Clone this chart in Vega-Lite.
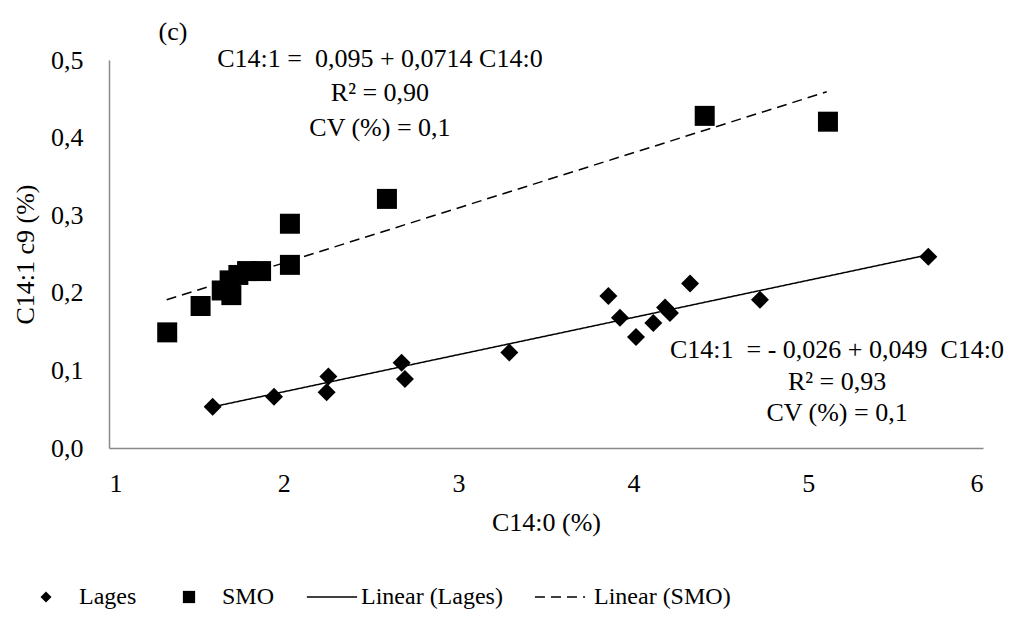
{
  "$schema": "https://vega.github.io/schema/vega-lite/v6.json",
  "width": 874,
  "height": 388,
  "autosize": "none",
  "padding": {"left": 109, "top": 60, "right": 27, "bottom": 173},
  "background": "white",
  "config": {
    "view": {"stroke": null},
    "font": "Liberation Serif",
    "axis": {
      "labelFont": "Liberation Serif",
      "titleFont": "Liberation Serif",
      "labelColor": "black",
      "titleColor": "black",
      "titleFontWeight": "normal",
      "labelFontSize": 26,
      "titleFontSize": 26,
      "domainColor": "#898989",
      "domainWidth": 1.5,
      "ticks": false,
      "tickSize": 0,
      "grid": false
    }
  },
  "datasets": {
    "points": [
      {"series": "Lages", "x": 1.593, "y": 0.053},
      {"series": "Lages", "x": 1.944, "y": 0.066},
      {"series": "Lages", "x": 2.255, "y": 0.092},
      {"series": "Lages", "x": 2.245, "y": 0.072},
      {"series": "Lages", "x": 2.674, "y": 0.110},
      {"series": "Lages", "x": 2.693, "y": 0.089},
      {"series": "Lages", "x": 3.290, "y": 0.123},
      {"series": "Lages", "x": 3.857, "y": 0.196},
      {"series": "Lages", "x": 3.923, "y": 0.168},
      {"series": "Lages", "x": 4.015, "y": 0.143},
      {"series": "Lages", "x": 4.114, "y": 0.161},
      {"series": "Lages", "x": 4.181, "y": 0.181},
      {"series": "Lages", "x": 4.209, "y": 0.174},
      {"series": "Lages", "x": 4.324, "y": 0.212},
      {"series": "Lages", "x": 4.724, "y": 0.191},
      {"series": "Lages", "x": 5.687, "y": 0.2465},
      {"series": "SMO", "x": 1.333, "y": 0.149},
      {"series": "SMO", "x": 1.524, "y": 0.183},
      {"series": "SMO", "x": 1.645, "y": 0.203},
      {"series": "SMO", "x": 1.700, "y": 0.197},
      {"series": "SMO", "x": 1.690, "y": 0.216},
      {"series": "SMO", "x": 1.740, "y": 0.223},
      {"series": "SMO", "x": 1.790, "y": 0.228},
      {"series": "SMO", "x": 1.870, "y": 0.228},
      {"series": "SMO", "x": 2.035, "y": 0.236},
      {"series": "SMO", "x": 2.035, "y": 0.289},
      {"series": "SMO", "x": 2.590, "y": 0.321},
      {"series": "SMO", "x": 4.408, "y": 0.428},
      {"series": "SMO", "x": 5.113, "y": 0.4205}
    ],
    "trend": [
      {"series": "Linear (Lages)", "x": 1.593, "y": 0.053},
      {"series": "Linear (Lages)", "x": 5.687, "y": 0.249},
      {"series": "Linear (SMO)", "x": 1.33, "y": 0.191},
      {"series": "Linear (SMO)", "x": 5.106, "y": 0.459}
    ],
    "notes": [
      {"label": "(c)", "x": 1.366, "y": 0.536},
      {"label": "C14:1 =\u00a0 0,095 + 0,0714 C14:0", "x": 2.55, "y": 0.501},
      {"label": "R² = 0,90", "x": 2.55, "y": 0.4575},
      {"label": "CV (%) = 0,1", "x": 2.55, "y": 0.412},
      {"label": "C14:1 \u00a0= - 0,026 + 0,049 \u00a0C14:0", "x": 5.165, "y": 0.126},
      {"label": "R² = 0,93", "x": 5.165, "y": 0.085},
      {"label": "CV (%) = 0,1", "x": 5.165, "y": 0.045}
    ]
  },
  "layer": [
    {
      "data": {"name": "points"},
      "mark": {"type": "point", "filled": true, "color": "black", "opacity": 1, "size": 400},
      "encoding": {
        "x": {
          "field": "x", "type": "quantitative",
          "scale": {"domain": [1, 6], "nice": false, "zero": false},
          "axis": {
            "values": [1, 2, 3, 4, 5, 6],
            "format": "d",
            "labelFont": "Liberation Serif",
            "titleFont": "Liberation Serif",
            "title": "C14:0 (%)",
            "labelPadding": 22,
            "titleX": 437,
            "titleY": 74,
            "titleBaseline": "middle",
            "titleAlign": "center"
          }
        },
        "y": {
          "field": "y", "type": "quantitative",
          "scale": {"domain": [0, 0.5], "nice": false, "zero": false},
          "axis": {
            "values": [0, 0.1, 0.2, 0.3, 0.4, 0.5],
            "labelExpr": "replace(format(datum.value, '.1f'), '.', ',')",
            "labelFont": "Liberation Serif",
            "titleFont": "Liberation Serif",
            "labelPadding": 26,
            "title": "C14:1 c9 (%)",
            "titleX": -84,
            "titleY": 194,
            "titleAngle": 270,
            "titleAlign": "center",
            "titleBaseline": "middle"
          }
        },
        "shape": {
          "field": "series", "type": "nominal",
          "scale": {
            "domain": ["Lages", "SMO", "Linear (Lages)", "Linear (SMO)"],
            "range": [
              "M0,-0.9L0.9,0L0,0.9L-0.9,0Z",
              "M-3.3,0M-1,-1L1,-1L1,1L-1,1Z",
              "M-3.45,-0.12L4.75,-0.12L4.75,0.12L-3.45,0.12Z",
              "M-4.26,-0.12L-2.62,-0.12L-2.62,0.12L-4.26,0.12ZM-1.64,-0.12L0,-0.12L0,0.12L-1.64,0.12ZM0.98,-0.12L2.62,-0.12L2.62,0.12L0.98,0.12ZM3.6,-0.12L3.93,-0.12L3.93,0.12L3.6,0.12Z"
            ]
          },
          "legend": {
            "title": null,
            "orient": "none",
            "direction": "horizontal",
            "columns": 4,
            "legendX": -75,
            "legendY": 525,
            "padding": 0,
            "columnPadding": 28,
            "symbolSize": 150,
            "labelOffset": 21,
            "labelFont": "Liberation Serif",
            "labelFontSize": 24,
            "labelColor": "black",
            "labelLimit": 400,
            "encode": {
              "symbols": {
                "update": {
                  "fill": {"value": "black"},
                  "stroke": {"value": "black"},
                  "strokeWidth": {"value": 0},
                  "opacity": {"value": 1}
                }
              }
            }
          }
        }
      }
    },
    {
      "data": {"name": "trend"},
      "mark": {"type": "line", "color": "black", "strokeWidth": 1.5},
      "encoding": {
        "x": {"field": "x", "type": "quantitative"},
        "y": {"field": "y", "type": "quantitative"},
        "detail": {"field": "series", "type": "nominal"},
        "strokeDash": {
          "field": "series", "type": "nominal",
          "scale": {"domain": ["Linear (Lages)", "Linear (SMO)"], "range": [[1, 0], [10, 6]]},
          "legend": null
        }
      }
    },
    {
      "data": {"name": "notes"},
      "mark": {"type": "text", "font": "Liberation Serif", "fontSize": 26, "color": "black", "align": "center", "baseline": "middle"},
      "encoding": {
        "x": {"field": "x", "type": "quantitative"},
        "y": {"field": "y", "type": "quantitative"},
        "text": {"field": "label", "type": "nominal"}
      }
    }
  ]
}
